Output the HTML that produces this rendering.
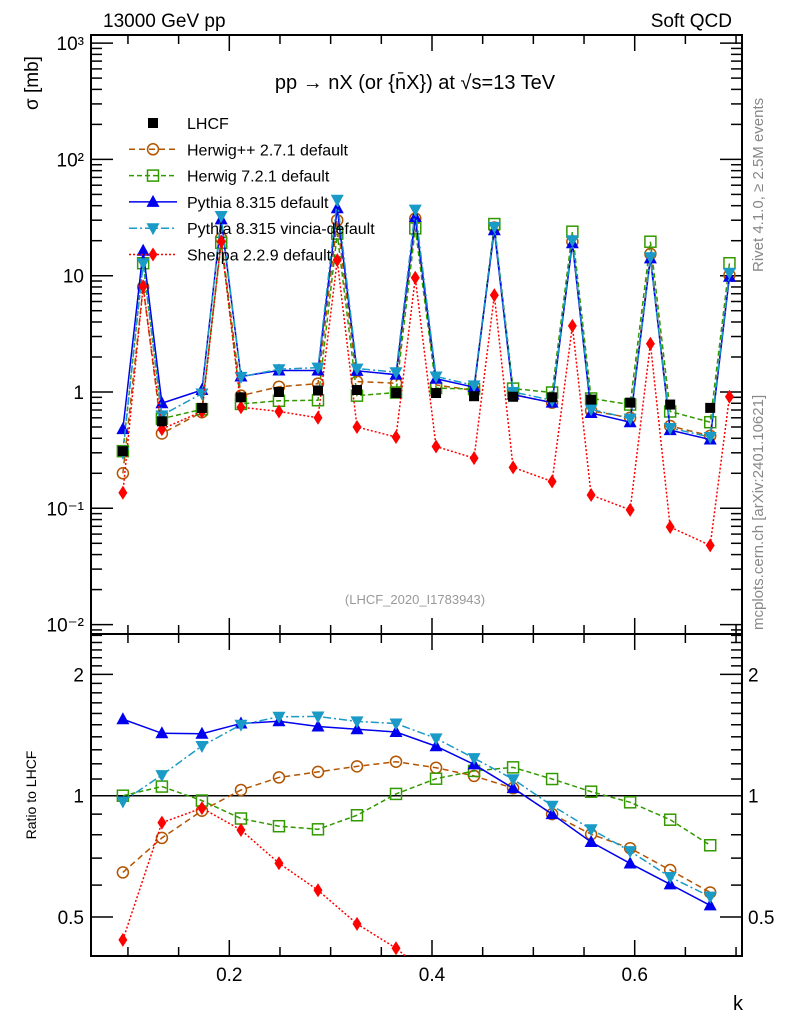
<!DOCTYPE html>
<html><head><meta charset="utf-8"><style>
html,body{margin:0;padding:0;background:#fff;overflow:hidden;width:786px;height:1024px;}
svg{display:block;font-family:"Liberation Sans",sans-serif;}
</style></head><body>
<svg id="lhcfChart" width="786" height="1024" viewBox="0 0 786 1024">
<defs><clipPath id="rclipPath"><rect x="91" y="634" width="651" height="322"/></clipPath></defs>
<rect x="91" y="35" width="651" height="599" fill="none" stroke="#000" stroke-width="2"/>
<rect x="91" y="634" width="651" height="322" fill="none" stroke="#000" stroke-width="2"/>
<g id="gMainPanel"></g>
<g id="gRatioPanel"></g>
<g id="gMarks"></g>
<text x="103" y="27" font-size="19">13000 GeV pp</text>
<text x="732" y="27" font-size="19" text-anchor="end">Soft QCD</text>
<text x="415" y="89" font-size="20" text-anchor="middle">pp → nX (or {n̄X}) at √s=13 TeV</text>
<text x="415" y="604" font-size="13" fill="#999" text-anchor="middle">(LHCF_2020_I1783943)</text>
<text transform="translate(38,110) rotate(-90)" font-size="19">σ [mb]</text>
<text transform="translate(36,795) rotate(-90)" font-size="14" text-anchor="middle">Ratio to LHCF</text>
<text x="733" y="1010" font-size="20">k</text>
<text transform="translate(763,272) rotate(-90)" font-size="15" fill="#888">Rivet 4.1.0, ≥ 2.5M events</text>
<text transform="translate(763,630) rotate(-90)" font-size="15" fill="#888">mcplots.cern.ch [arXiv:2401.10621]</text>
<g id="gLegend"></g>
</svg>
<script>
var kLow = [0.095,0.1335,0.173,0.2115,0.249,0.2875,0.326,0.3645,0.404,0.4415,0.48,0.5185,0.557,0.5955,0.635,0.6745];
var kPeak = [0.115,0.192,0.3065,0.3835,0.4615,0.5385,0.6155,0.6935];
var lhcfLow = [0.31,0.56,0.73,0.90,1.0,1.03,1.04,0.98,0.98,0.92,0.91,0.90,0.86,0.81,0.78,0.73];
var herwigppLow = [0.20,0.44,0.67,0.93,1.11,1.18,1.23,1.19,1.15,1.03,0.95,0.81,0.69,0.60,0.51,0.42];
var herwigppPeak = [8.0,21,30,31,26,19.6,15.4,10.1];
var herwig7Low = [0.31,0.59,0.71,0.79,0.84,0.85,0.93,0.99,1.08,1.06,1.07,0.99,0.88,0.78,0.68,0.55];
var herwig7Peak = [12.8,19.2,23,25.5,27.8,23.9,19.6,12.8];
var pythiaLow = [0.48,0.80,1.04,1.36,1.53,1.53,1.52,1.41,1.30,1.10,0.95,0.81,0.66,0.55,0.47,0.39];
var pythiaPeak = [16.4,30.5,38,32,24.6,19,14.1,9.8];
var vinciaLow = [0.30,0.63,0.97,1.35,1.57,1.62,1.59,1.48,1.36,1.14,1.00,0.85,0.71,0.59,0.49,0.41];
var vinciaPeak = [12.8,32.6,45,37,26.3,20.2,14.4,10.6];
var sherpaLow = [0.136,0.48,0.68,0.74,0.68,0.60,0.50,0.41,0.34,0.27,0.225,0.17,0.13,0.097,0.069,0.048];
var sherpaPeak = [8.1,19.7,13.6,9.6,6.8,3.7,2.6,0.91];
var mainTickLabels = ["10\u00b3","10\u00b2","10","1","10\u207b\u00b9","10\u207b\u00b2"];
var xTickLabels = ["0.2","0.4","0.6"];
var ratioTickLabels = ["2","1","0.5"];

function lhcfLog10(v){return Math.log(v)/Math.LN10;}
function lhcfLog2(v){return Math.log(v)/Math.LN2;}
function lhcfX(k){return 229.3+(k-0.2)*1013.5;}
function lhcfY(v){return 392-lhcfLog10(v)*116.3;}
function lhcfYR(r){return 795.7-lhcfLog2(r)*121.3;}
function lhcfMk(tag,attrs,parent){
 var e=document.createElementNS("http://www.w3.org/2000/svg",tag);
 for(var a in attrs){e.setAttribute(a,String(attrs[a]));}
 parent.appendChild(e);
 return e;
}
function lhcfMarker(g,type,color,x,y){
 if(type==='sq')return lhcfMk('rect',{x:x-5,y:y-5,width:10,height:10,fill:'#000'},g);
 if(type==='circ')return lhcfMk('circle',{cx:x,cy:y,r:5.5,fill:'none',stroke:color,'stroke-width':1.5},g);
 if(type==='osq')return lhcfMk('rect',{x:x-5.5,y:y-5.5,width:11,height:11,fill:'none',stroke:color,'stroke-width':1.5},g);
 if(type==='up')return lhcfMk('polygon',{points:x+','+(y-7)+' '+(x-6.5)+','+(y+5)+' '+(x+6.5)+','+(y+5),fill:color},g);
 if(type==='down')return lhcfMk('polygon',{points:x+','+(y+7)+' '+(x-6.5)+','+(y-5)+' '+(x+6.5)+','+(y-5),fill:color},g);
 return lhcfMk('polygon',{points:x+','+(y-7)+' '+(x-4.5)+','+y+' '+x+','+(y+7)+' '+(x+4.5)+','+y,fill:color},g);
}

function lhcfDrawAxes(){
 var L=91,R=742,T=35,MID=634,B=956;
 var gMain=document.getElementById('gMainPanel'),gRatio=document.getElementById('gRatioPanel');
 for(var d=-3;d<=3;d++){for(var m=1;m<10;m++){var y=lhcfY(m*Math.pow(10,d));if(y<T||y>MID)continue;var len=m===1?22:11;
  lhcfMk('line',{x1:L,x2:L+len,y1:y,y2:y,stroke:'#000','stroke-width':1.5},gMain);
  lhcfMk('line',{x1:R,x2:R-len,y1:y,y2:y,stroke:'#000','stroke-width':1.5},gMain);}}
 for(var i=0;i<mainTickLabels.length;i++){var yy=lhcfY(Math.pow(10,3-i));
  var tx=lhcfMk('text',{x:84,y:yy+7,'font-size':19,'text-anchor':'end'},gMain);
  tx.textContent=mainTickLabels[i];
  
  }
 for(var j=1;j<=14;j++){var x=lhcfX(j*0.05);if(x<L||x>R)continue;var ln=(j%4===0)?16:9;
  lhcfMk('line',{x1:x,x2:x,y1:T,y2:T+ln,stroke:'#000','stroke-width':1.5},gMain);
  lhcfMk('line',{x1:x,x2:x,y1:MID,y2:MID+ln,stroke:'#000','stroke-width':1.5},gMain);
  lhcfMk('line',{x1:x,x2:x,y1:MID,y2:MID-ln,stroke:'#000','stroke-width':1.5},gRatio);
  lhcfMk('line',{x1:x,x2:x,y1:B,y2:B-ln,stroke:'#000','stroke-width':1.5},gRatio);}
 for(var q=0;q<xTickLabels.length;q++){
  var xt=lhcfMk('text',{x:lhcfX(0.2*(q+1)),y:981,'font-size':19,'text-anchor':'middle'},gRatio);
  xt.textContent=xTickLabels[q];
  
  }
 var rt=[0.4,0.5,0.6,0.7,0.8,0.9,1,1.1,1.2,1.3,1.4,1.5,1.6,1.7,1.8,1.9,2,2.1,2.2,2.3,2.4,2.5];
 for(var n=0;n<rt.length;n++){var r=rt[n];var yr=lhcfYR(r);if(yr<MID||yr>B)continue;var l2=(r===0.5||r===1||r===2)?22:11;
  lhcfMk('line',{x1:L,x2:L+l2,y1:yr,y2:yr,stroke:'#000','stroke-width':1.5},gRatio);
  lhcfMk('line',{x1:R,x2:R-l2,y1:yr,y2:yr,stroke:'#000','stroke-width':1.5},gRatio);}
 for(var p=0;p<ratioTickLabels.length;p++){var y3=lhcfYR(Math.pow(2,1-p));
  var a=lhcfMk('text',{x:84,y:y3+7,'font-size':19,'text-anchor':'end'},gRatio);
  a.textContent=ratioTickLabels[p];
  
  
  var b=lhcfMk('text',{x:748,y:y3+7,'font-size':19},gRatio);
  b.textContent=ratioTickLabels[p];
  
  }
 var ref=lhcfMk('line',{x1:L,x2:R,y1:lhcfYR(1),y2:lhcfYR(1),stroke:'#000','stroke-width':1.5},gRatio);
 
 
}

var lhcfSeries=[
 {name:'herwigpp',label:'Herwig++ 2.7.1 default',low:herwigppLow,peak:herwigppPeak,color:'#b35400',dash:'6,4',m:'circ'},
 {name:'herwig7',label:'Herwig 7.2.1 default',low:herwig7Low,peak:herwig7Peak,color:'#339900',dash:'5,3',m:'osq'},
 {name:'pythia',label:'Pythia 8.315 default',low:pythiaLow,peak:pythiaPeak,color:'#0000ee',dash:'none',m:'up'},
 {name:'vincia',label:'Pythia 8.315 vincia-default',low:vinciaLow,peak:vinciaPeak,color:'#1a9ac6',dash:'8,3,2,3',m:'down'},
 {name:'sherpa',label:'Sherpa 2.2.9 default',low:sherpaLow,peak:sherpaPeak,color:'#ff0000',dash:'2,2',m:'dia'}];

function lhcfDrawSeries(){
 var gMarks=document.getElementById('gMarks');
 for(var si=0;si<lhcfSeries.length;si++){
  var s=lhcfSeries[si];
  var g=lhcfMk('g',{},gMarks);
  
  
  var pts=[];
  for(var i=0;i<kLow.length;i++)pts.push([kLow[i],s.low[i]]);
  for(var j=0;j<kPeak.length;j++)pts.push([kPeak[j],s.peak[j]]);
  pts.sort(function(a,b){return a[0]-b[0];});
  var str=[];for(var u=0;u<pts.length;u++)str.push(lhcfX(pts[u][0])+','+lhcfY(pts[u][1]));
  lhcfMk('polyline',{points:str.join(' '),fill:'none',stroke:s.color,'stroke-width':1.5,'stroke-dasharray':s.dash},g);
  for(var w=0;w<pts.length;w++){
   var q=lhcfMarker(g,s.m,s.color,lhcfX(pts[w][0]),lhcfY(pts[w][1]));
   
   }
  var rg=lhcfMk('g',{'clip-path':'url(#rclipPath)'},gMarks);
  
  
  var rs=[];for(var z=0;z<kLow.length;z++)rs.push(lhcfX(kLow[z])+','+lhcfYR(s.low[z]/lhcfLow[z]));
  lhcfMk('polyline',{points:rs.join(' '),fill:'none',stroke:s.color,'stroke-width':1.5,'stroke-dasharray':s.dash},rg);
  for(var c=0;c<kLow.length;c++){
   var q2=lhcfMarker(rg,s.m,s.color,lhcfX(kLow[c]),lhcfYR(s.low[c]/lhcfLow[c]));
   
   }
 }
 var lg=lhcfMk('g',{},gMarks);
 
 
 for(var h=0;h<kLow.length;h++){
  var q3=lhcfMarker(lg,'sq','#000',lhcfX(kLow[h]),lhcfY(lhcfLow[h]));
  
  }
}

function lhcfDrawLegend(){
 var gLeg=document.getElementById('gLegend');
 var items=[{label:'LHCF',m:'sq',color:'#000',dash:null}];
 for(var i=0;i<lhcfSeries.length;i++)items.push({label:lhcfSeries[i].label,m:lhcfSeries[i].m,color:lhcfSeries[i].color,dash:lhcfSeries[i].dash});
 for(var k=0;k<items.length;k++){var it=items[k];var y=123+k*26.3;
  var g=lhcfMk('g',{},gLeg);
  
  
  if(it.dash!==null)lhcfMk('line',{x1:129,x2:177,y1:y,y2:y,stroke:it.color,'stroke-width':1.5,'stroke-dasharray':it.dash},g);
  lhcfMarker(g,it.m,it.color,153,y);
  var t=lhcfMk('text',{x:187,y:y+6,'font-size':16},g);
  t.textContent=it.label;}
}
try{lhcfDrawAxes();}catch(e){}
try{lhcfDrawSeries();}catch(e){}
try{lhcfDrawLegend();}catch(e){}
</script>
</body></html>
